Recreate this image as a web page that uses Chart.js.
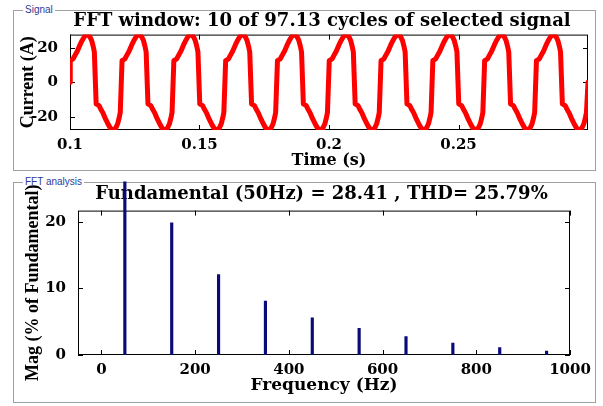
<!DOCTYPE html>
<html>
<head>
<meta charset="utf-8">
<script src="https://cdn.jsdelivr.net/npm/chart.js@4.4.1/dist/chart.umd.min.js"></script>
<style>
  html, body { margin: 0; padding: 0; background: #fff; overflow: hidden; width: 603px; height: 406px; }
  .panel { position: absolute; border: 1px solid #a0a0a0; }
  .panel span { position: absolute; top: -7px; left: 9px; background: #fff; padding: 0 2px;
    font: 10px "Liberation Sans", Arial, sans-serif; color: #2a3c9c; line-height: 12px; }
  canvas { position: absolute; left: 0; }
</style>
</head>
<body>
<div class="panel" style="left:13px; top:10px; width:581px; height:159px;"><span>Signal</span></div>
<div class="panel" style="left:13px; top:182px; width:581px; height:219px;"><span>FFT analysis</span></div>
<canvas id="sigChart" width="644" height="170" style="top:0px;"></canvas>
<canvas id="fftChart" width="643" height="226" style="top:176px;"></canvas>
<script>
const sigTitle = 'FFT window: 10 of 97.13 cycles of selected signal';
const fftTitle = 'Fundamental (50Hz) = 28.41 , THD= 25.79%';

// time samples (s)
const timeS = [
  0.1000,
  0.1001, 0.1012, 0.1017, 0.1028, 0.1038, 0.1048, 0.1056, 0.1063, 0.1070, 0.1077, 0.1084, 0.1090, 0.1094, 0.1101, 0.1112, 0.1117, 0.1128, 0.1138, 0.1148, 0.1156, 0.1163, 0.1170, 0.1177, 0.1184, 0.1190, 0.1194,
  0.1201, 0.1212, 0.1217, 0.1228, 0.1238, 0.1248, 0.1256, 0.1263, 0.1270, 0.1277, 0.1284, 0.1290, 0.1294, 0.1301, 0.1312, 0.1317, 0.1328, 0.1338, 0.1348, 0.1356, 0.1363, 0.1370, 0.1377, 0.1384, 0.1390, 0.1394,
  0.1401, 0.1412, 0.1417, 0.1428, 0.1438, 0.1448, 0.1456, 0.1463, 0.1470, 0.1477, 0.1484, 0.1490, 0.1494, 0.1501, 0.1512, 0.1517, 0.1528, 0.1538, 0.1548, 0.1556, 0.1563, 0.1570, 0.1577, 0.1584, 0.1590, 0.1594,
  0.1601, 0.1612, 0.1617, 0.1628, 0.1638, 0.1648, 0.1656, 0.1663, 0.1670, 0.1677, 0.1684, 0.1690, 0.1694, 0.1701, 0.1712, 0.1717, 0.1728, 0.1738, 0.1748, 0.1756, 0.1763, 0.1770, 0.1777, 0.1784, 0.1790, 0.1794,
  0.1801, 0.1812, 0.1817, 0.1828, 0.1838, 0.1848, 0.1856, 0.1863, 0.1870, 0.1877, 0.1884, 0.1890, 0.1894, 0.1901, 0.1912, 0.1917, 0.1928, 0.1938, 0.1948, 0.1956, 0.1963, 0.1970, 0.1977, 0.1984, 0.1990, 0.1994,
  0.2001, 0.2012, 0.2017, 0.2028, 0.2038, 0.2048, 0.2056, 0.2063, 0.2070, 0.2077, 0.2084, 0.2090, 0.2094, 0.2101, 0.2112, 0.2117, 0.2128, 0.2138, 0.2148, 0.2156, 0.2163, 0.2170, 0.2177, 0.2184, 0.2190, 0.2194,
  0.2201, 0.2212, 0.2217, 0.2228, 0.2238, 0.2248, 0.2256, 0.2263, 0.2270, 0.2277, 0.2284, 0.2290, 0.2294, 0.2301, 0.2312, 0.2317, 0.2328, 0.2338, 0.2348, 0.2356, 0.2363, 0.2370, 0.2377, 0.2384, 0.2390, 0.2394,
  0.2401, 0.2412, 0.2417, 0.2428, 0.2438, 0.2448, 0.2456, 0.2463, 0.2470, 0.2477, 0.2484, 0.2490, 0.2494, 0.2501, 0.2512, 0.2517, 0.2528, 0.2538, 0.2548, 0.2556, 0.2563, 0.2570, 0.2577, 0.2584, 0.2590, 0.2594,
  0.2601, 0.2612, 0.2617, 0.2628, 0.2638, 0.2648, 0.2656, 0.2663, 0.2670, 0.2677, 0.2684, 0.2690, 0.2694, 0.2701, 0.2712, 0.2717, 0.2728, 0.2738, 0.2748, 0.2756, 0.2763, 0.2770, 0.2777, 0.2784, 0.2790, 0.2794,
  0.2801, 0.2812, 0.2817, 0.2828, 0.2838, 0.2848, 0.2856, 0.2863, 0.2870, 0.2877, 0.2884, 0.2890, 0.2894, 0.2901, 0.2912, 0.2917, 0.2928, 0.2938, 0.2948, 0.2956, 0.2963, 0.2970, 0.2977, 0.2984, 0.2990, 0.2994,
  0.3000
];
// current (A) at those samples
const currentA = [
  0,
  12.5, 13.5, 15, 18, 21.5, 24.5, 26.5, 27.5, 27.5, 26.3, 24, 20.5, 17.5, -12.5, -13.5, -15, -18, -21.5, -24.5, -26.5, -27.5, -27.5, -26.3, -24, -20.5, -17.5,
  12.5, 13.5, 15, 18, 21.5, 24.5, 26.5, 27.5, 27.5, 26.3, 24, 20.5, 17.5, -12.5, -13.5, -15, -18, -21.5, -24.5, -26.5, -27.5, -27.5, -26.3, -24, -20.5, -17.5,
  12.5, 13.5, 15, 18, 21.5, 24.5, 26.5, 27.5, 27.5, 26.3, 24, 20.5, 17.5, -12.5, -13.5, -15, -18, -21.5, -24.5, -26.5, -27.5, -27.5, -26.3, -24, -20.5, -17.5,
  12.5, 13.5, 15, 18, 21.5, 24.5, 26.5, 27.5, 27.5, 26.3, 24, 20.5, 17.5, -12.5, -13.5, -15, -18, -21.5, -24.5, -26.5, -27.5, -27.5, -26.3, -24, -20.5, -17.5,
  12.5, 13.5, 15, 18, 21.5, 24.5, 26.5, 27.5, 27.5, 26.3, 24, 20.5, 17.5, -12.5, -13.5, -15, -18, -21.5, -24.5, -26.5, -27.5, -27.5, -26.3, -24, -20.5, -17.5,
  12.5, 13.5, 15, 18, 21.5, 24.5, 26.5, 27.5, 27.5, 26.3, 24, 20.5, 17.5, -12.5, -13.5, -15, -18, -21.5, -24.5, -26.5, -27.5, -27.5, -26.3, -24, -20.5, -17.5,
  12.5, 13.5, 15, 18, 21.5, 24.5, 26.5, 27.5, 27.5, 26.3, 24, 20.5, 17.5, -12.5, -13.5, -15, -18, -21.5, -24.5, -26.5, -27.5, -27.5, -26.3, -24, -20.5, -17.5,
  12.5, 13.5, 15, 18, 21.5, 24.5, 26.5, 27.5, 27.5, 26.3, 24, 20.5, 17.5, -12.5, -13.5, -15, -18, -21.5, -24.5, -26.5, -27.5, -27.5, -26.3, -24, -20.5, -17.5,
  12.5, 13.5, 15, 18, 21.5, 24.5, 26.5, 27.5, 27.5, 26.3, 24, 20.5, 17.5, -12.5, -13.5, -15, -18, -21.5, -24.5, -26.5, -27.5, -27.5, -26.3, -24, -20.5, -17.5,
  12.5, 13.5, 15, 18, 21.5, 24.5, 26.5, 27.5, 27.5, 26.3, 24, 20.5, 17.5, -12.5, -13.5, -15, -18, -21.5, -24.5, -26.5, -27.5, -27.5, -26.3, -24, -20.5, -17.5,
  0
];
const timeTicks = [0.1, 0.15, 0.2, 0.25];
const currentTicks = [-20, 0, 20];

// harmonic spectrum (% of fundamental)
const harmFreq = [50, 150, 250, 350, 450, 550, 650, 750, 850, 950];
const harmMag = [100, 19.85, 12.1, 8.1, 5.6, 4.0, 2.75, 1.8, 1.1, 0.6];
const freqTicks = [0, 200, 400, 600, 800, 1000];
const magTicks = [0, 10, 20];

Chart.defaults.color = '#000';
Chart.defaults.animation = false;
const serif = '"DejaVu Serif", "Liberation Serif", serif';
const times = '"Liberation Serif", "Times New Roman", serif';

// matlab style axes: full box plus inward tick marks on all four sides
const boxTicks = {
  id: 'boxTicks',
  beforeDatasetsDraw(chart) {
    const { ctx, chartArea: a, scales: { x, y } } = chart;
    ctx.save();
    ctx.strokeStyle = '#000';
    ctx.lineWidth = 1;
    ctx.strokeRect(a.left + 0.5, a.top + 0.5, a.width - 1, a.height - 1);
    ctx.beginPath();
    x.ticks.forEach(t => {
      const px = Math.round(x.getPixelForValue(t.value)) + 0.5;
      ctx.moveTo(px, a.bottom); ctx.lineTo(px, a.bottom - 5);
      ctx.moveTo(px, a.top); ctx.lineTo(px, a.top + 5);
    });
    y.ticks.forEach(t => {
      const py = Math.round(y.getPixelForValue(t.value)) + 0.5;
      ctx.moveTo(a.left, py); ctx.lineTo(a.left + 5, py);
      ctx.moveTo(a.right, py); ctx.lineTo(a.right - 5, py);
    });
    ctx.stroke();
    ctx.restore();
  }
};

function fixedTicks(list) {
  return scale => { scale.ticks = list.map(v => ({ value: v })); };
}

// empty right-hand scale that only reserves room, so the title centres like the original
function spacer(w) {
  return {
    type: 'linear', position: 'right', display: true,
    afterFit: s => { s.width = w; },
    ticks: { display: false }, grid: { display: false }, border: { display: false }
  };
}

new Chart(document.getElementById('sigChart'), {
  type: 'line',
  data: {
    datasets: [{
      data: timeS.map((t, i) => ({ x: t, y: currentA[i] })),
      borderColor: '#ff0000',
      borderWidth: 5,
      borderJoinStyle: 'round',
      borderCapStyle: 'round',
      pointRadius: 0,
      tension: 0
    }]
  },
  options: {
    responsive: false,
    layout: { padding: 0 },
    plugins: {
      legend: { display: false },
      tooltip: { enabled: false },
      title: {
        display: true, text: sigTitle,
        font: { family: serif, size: 18, weight: 'bold' },
        padding: { top: 11, bottom: 2 }
      }
    },
    scales: {
      x: {
        type: 'linear', min: 0.1, max: 0.3,
        afterBuildTicks: fixedTicks(timeTicks),
        afterFit: s => { s.height = 40; },
        grid: { display: false }, border: { display: false },
        ticks: { padding: 0, font: { family: serif, size: 15, weight: 'bold', lineHeight: 1 }, callback: v => String(v) },
        title: { display: true, text: 'Time (s)', padding: { top: 0, bottom: 1 }, font: { family: serif, size: 16, weight: 'bold', lineHeight: 1 } }
      },
      y: {
        min: -27.6, max: 27.6,
        afterBuildTicks: fixedTicks(currentTicks),
        afterFit: s => { s.width = 70; },
        grid: { display: false }, border: { display: false },
        ticks: { padding: 4, font: { family: serif, size: 15, weight: 'bold', lineHeight: 1 }, callback: v => String(v) },
        title: { display: true, text: 'Current (A)', padding: { top: 19, bottom: 0 }, font: { family: times, size: 18, weight: 'bold', lineHeight: 1 } }
      },
      yR: spacer(56)
    }
  },
  plugins: [boxTicks]
});

new Chart(document.getElementById('fftChart'), {
  type: 'bar',
  data: {
    datasets: [{
      data: harmFreq.map((f, i) => ({ x: f, y: harmMag[i] })),
      backgroundColor: '#0a0a78',
      barThickness: 2.5,
      // the fundamental runs off the axes up to the panel edge
      clip: { left: 0, top: 29, right: 0, bottom: 0 }
    }]
  },
  options: {
    responsive: false,
    layout: { padding: 0 },
    plugins: {
      legend: { display: false },
      tooltip: { enabled: false },
      title: {
        display: true, text: fftTitle,
        font: { family: serif, size: 18, weight: 'bold' },
        padding: { top: 8, bottom: 5 }
      }
    },
    scales: {
      x: {
        type: 'linear', min: -50, max: 1000, offset: false,
        afterBuildTicks: fixedTicks(freqTicks),
        afterFit: s => { s.height = 47; },
        grid: { display: false }, border: { display: false },
        ticks: { padding: 0, font: { family: serif, size: 15, weight: 'bold', lineHeight: 1 }, callback: v => String(v) },
        title: { display: true, text: 'Frequency (Hz)', padding: { top: 0, bottom: 8 }, font: { family: serif, size: 17, weight: 'bold', lineHeight: 1 } }
      },
      y: {
        min: 0, max: 21.7,
        afterBuildTicks: fixedTicks(magTicks),
        afterFit: s => { s.width = 78; },
        grid: { display: false }, border: { display: false },
        ticks: { padding: 4, font: { family: serif, size: 15, weight: 'bold', lineHeight: 1 }, callback: v => String(v) },
        title: { display: true, text: 'Mag (% of Fundamental)', padding: { top: 24, bottom: 0 }, font: { family: times, size: 18, weight: 'bold', lineHeight: 1 } }
      },
      yR: spacer(73)
    }
  },
  plugins: [boxTicks]
});
</script>
</body>
</html>
